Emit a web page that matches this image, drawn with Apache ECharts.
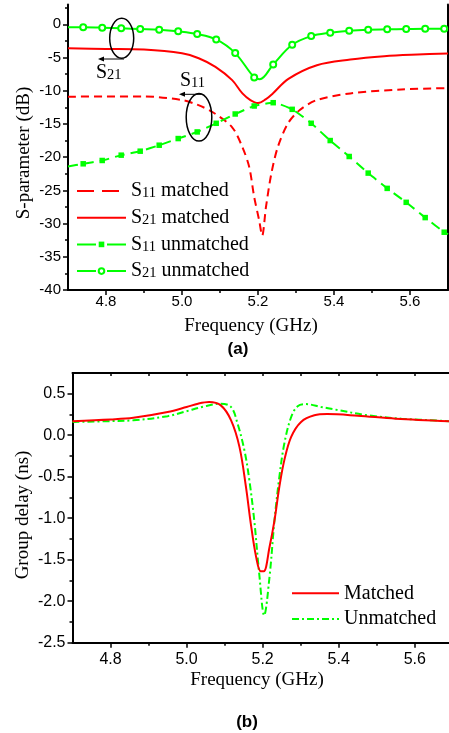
<!DOCTYPE html>
<html><head><meta charset="utf-8">
<script src="https://cdn.jsdelivr.net/npm/echarts@6/dist/echarts.min.js"></script>
<style>html,body{margin:0;padding:0;background:#fff}#c{width:449px;height:733px}</style>
</head><body><div id="c"></div>
<script>
// ---------- (a) S-parameter data ----------
const fS11m = [4.70, 4.80, 4.90, 5.00, 5.04, 5.08, 5.132, 5.159, 5.177, 5.19, 5.203, 5.211, 5.221, 5.235, 5.252, 5.279, 5.31, 5.355, 5.443, 5.577, 5.70];
const vS11m = [-10.9, -10.85, -10.85, -11.4, -12.1, -13.2, -15.5, -18.5, -21.5, -26.0, -29.5, -31.8, -27.5, -22.5, -18.5, -14.9, -12.9, -11.4, -10.4, -9.8, -9.6];

const fS21m = [4.70, 4.80, 4.90, 5.00, 5.044, 5.088, 5.132, 5.159, 5.18, 5.20, 5.22, 5.239, 5.28, 5.355, 5.443, 5.532, 5.62, 5.70];
const vS21m = [-3.62, -3.7, -3.8, -4.35, -5.1, -6.4, -8.4, -10.4, -11.4, -11.85, -11.3, -10.4, -8.2, -6.15, -5.3, -4.8, -4.55, -4.4];

const fMarkers = [4.74, 4.79, 4.84, 4.89, 4.94, 4.99, 5.04, 5.09, 5.14, 5.19, 5.24, 5.29, 5.34, 5.39, 5.44, 5.49, 5.54, 5.59, 5.64, 5.69];
const vS11uMarkers = [-21.0, -20.5, -19.7, -19.1, -18.2, -17.2, -16.2, -14.9, -13.5, -12.3, -11.8, -12.8, -14.9, -17.5, -19.9, -22.4, -24.7, -26.8, -29.1, -31.3];
const fS11uExtra = [4.70, 5.70];
const vS11uExtra = [-21.4, -31.6];
const vS21uMarkers = [-0.45, -0.5, -0.6, -0.7, -0.8, -1.06, -1.46, -2.27, -4.33, -8.0, -6.04, -3.08, -1.77, -1.26, -0.96, -0.81, -0.76, -0.71, -0.66, -0.66];
const fS21uExtra = [4.70, 5.205, 5.70];
const vS21uExtra = [-0.45, -8.26, -0.66];

const xTicksA = [4.8, 5.0, 5.2, 5.4, 5.6];
const xMinorA = [4.9, 5.1, 5.3, 5.5];
const yTicksA = [-40, -35, -30, -25, -20, -15, -10, -5, 0];
const yMinorA = [-37.5, -32.5, -27.5, -22.5, -17.5, -12.5, -7.5, -2.5, 2.5];

// ---------- (b) Group delay data ----------
const fGDm = [4.70, 4.80, 4.86, 4.95, 5.00, 5.03, 5.059, 5.09, 5.117, 5.139, 5.156, 5.169, 5.183, 5.195, 5.203, 5.218, 5.231, 5.244, 5.257, 5.275, 5.301, 5.336, 5.37, 5.45, 5.55, 5.69];
const vGDm = [0.17, 0.19, 0.21, 0.28, 0.34, 0.38, 0.40, 0.36, 0.18, -0.14, -0.62, -1.07, -1.47, -1.64, -1.64, -1.35, -1.03, -0.62, -0.30, -0.02, 0.16, 0.24, 0.255, 0.235, 0.20, 0.17];
const fGDu = [4.70, 4.80, 4.86, 4.95, 5.00, 5.045, 5.09, 5.117, 5.134, 5.152, 5.165, 5.178, 5.191, 5.204, 5.218, 5.231, 5.244, 5.257, 5.275, 5.292, 5.314, 5.354, 5.39, 5.477, 5.565, 5.69];
const vGDu = [0.16, 0.17, 0.18, 0.23, 0.29, 0.345, 0.38, 0.34, 0.14, -0.18, -0.54, -1.03, -1.67, -2.17, -1.71, -1.03, -0.50, -0.10, 0.22, 0.35, 0.375, 0.34, 0.31, 0.24, 0.20, 0.17];

const xTicksB = [4.8, 5.0, 5.2, 5.4, 5.6];
const xMinorB = [4.9, 5.1, 5.3, 5.5];
const xTopB = [4.8, 4.9, 5.0, 5.1, 5.2, 5.3, 5.4, 5.5, 5.6];
const yTicksB = [-2.5, -2.0, -1.5, -1.0, -0.5, 0.0, 0.5];
const yMinorB = [-2.25, -1.75, -1.25, -0.75, -0.25, 0.25];

// ---------- helpers ----------
const RED = '#ff0000', GREEN = '#00ff00';
const SANS = '"Liberation Sans", Arial, sans-serif';
const SERIF = '"Liberation Serif", "Times New Roman", serif';
const zip = (f, v) => f.map((x, i) => [x, v[i]]);
function withMarkers(mf, mv, ef, ev) {
  const pts = mf.map((x, i) => ({ value: [x, mv[i]] }))
    .concat(ef.map((x, i) => ({ value: [x, ev[i]], symbol: 'none' })));
  pts.sort((a, b) => a.value[0] - b.value[0]);
  return pts;
}
const subRich = { s: { fontFamily: SERIF, fontSize: 14.5, color: '#000', verticalAlign: 'bottom', lineHeight: 20 } };

function mainX(grid, min, max, ticks, fs, margin) {
  return { type: 'value', gridIndex: grid, min, max, position: 'bottom',
    axisLine: { show: true, onZero: false, lineStyle: { color: '#000', width: 2 } },
    axisTick: { show: true, customValues: ticks, length: 5, lineStyle: { color: '#000', width: 1.5 } },
    axisLabel: { show: true, customValues: ticks, formatter: v => v.toFixed(1), fontFamily: SANS, fontSize: fs, color: '#000', margin },
    splitLine: { show: false } };
}
function minorX(grid, min, max, ticks, pos, inside, len) {
  return { type: 'value', gridIndex: grid, min, max, position: pos,
    axisLine: { show: pos === 'top', onZero: false, lineStyle: { color: '#000', width: 2 } },
    axisTick: { show: true, inside: !!inside, customValues: ticks, length: len, lineStyle: { color: '#000', width: 1.5 } },
    axisLabel: { show: false }, splitLine: { show: false } };
}
function mainY(grid, min, max, ticks, fs, fmt, margin) {
  return { type: 'value', gridIndex: grid, min, max, position: 'left',
    axisLine: { show: true, onZero: false, lineStyle: { color: '#000', width: 2 } },
    axisTick: { show: true, customValues: ticks, length: 5, lineStyle: { color: '#000', width: 1.5 } },
    axisLabel: { show: true, customValues: ticks, formatter: fmt, fontFamily: SANS, fontSize: fs, color: '#000', margin },
    splitLine: { show: false } };
}
function minorY(grid, min, max, ticks, pos, showLine) {
  return { type: 'value', gridIndex: grid, min, max, position: pos,
    axisLine: { show: !!showLine, onZero: false, lineStyle: { color: '#000', width: 2 } },
    axisTick: { show: !!ticks, customValues: ticks || [], length: 3, lineStyle: { color: '#000', width: 1.5 } },
    axisLabel: { show: false }, splitLine: { show: false } };
}

const chart = echarts.init(document.getElementById('c'), null, { renderer: 'canvas' });
const option = {
  animation: false,
  backgroundColor: '#fff',
  grid: [
    { left: 68, top: 4.4, width: 380, height: 285.6 },
    { left: 72.5, top: 373, width: 378.7, height: 269.7 }
  ],
  xAxis: [
    mainX(0, 4.7, 5.7, xTicksA, 15, 4),
    minorX(0, 4.7, 5.7, xMinorA, 'bottom', false, 3),
    mainX(1, 4.7, 5.69, xTicksB, 16, 9),
    minorX(1, 4.7, 5.69, xMinorB, 'bottom', false, 3),
    minorX(1, 4.7, 5.69, xTopB, 'top', true, 3)
  ],
  yAxis: [
    mainY(0, -40, 3, yTicksA, 15, v => String(v), 7),
    minorY(0, -40, 3, yMinorA, 'left', false),
    minorY(0, -40, 3, null, 'right', true),
    mainY(1, -2.5, 0.75, yTicksB, 16, v => v.toFixed(1), 7),
    minorY(1, -2.5, 0.75, yMinorB, 'left', false)
  ],
  legend: [
    { orient: 'vertical', left: 76, top: 181, padding: 0, itemGap: 6.7, itemWidth: 49, itemHeight: 7,
      data: [
        { name: 'S11 matched', itemStyle: { opacity: 0 }, lineStyle: { type: [17, 8] } },
        { name: 'S21 matched', itemStyle: { opacity: 0 } },
        { name: 'S11 unmatched', lineStyle: { type: [19, 11] } },
        { name: 'S21 unmatched', lineStyle: { type: [19, 11] } }
      ],
      formatter: n => n.replace(/^S(\d+)/, 'S{s|$1}'),
      textStyle: { fontFamily: SERIF, fontSize: 20, color: '#000', lineHeight: 20, rich: subRich } },
    { orient: 'vertical', left: 291, top: 583.3, padding: 0, itemGap: 5.7, itemWidth: 47, itemHeight: 7,
      data: [
        { name: 'Matched', itemStyle: { opacity: 0 } },
        { name: 'Unmatched', itemStyle: { opacity: 0 } }
      ],
      textStyle: { fontFamily: SERIF, fontSize: 20, color: '#000', lineHeight: 20 } }
  ],
  series: [
    { name: 'S11 matched', type: 'line', xAxisIndex: 0, yAxisIndex: 0, data: zip(fS11m, vS11m),
      symbol: 'none', smooth: 0.3,
      lineStyle: { color: RED, width: 2, type: [8, 5] }, itemStyle: { color: RED } },
    { name: 'S21 matched', type: 'line', xAxisIndex: 0, yAxisIndex: 0, data: zip(fS21m, vS21m),
      symbol: 'none', smooth: 0.35,
      lineStyle: { color: RED, width: 2 }, itemStyle: { color: RED } },
    { name: 'S11 unmatched', type: 'line', xAxisIndex: 0, yAxisIndex: 0,
      data: withMarkers(fMarkers, vS11uMarkers, fS11uExtra, vS11uExtra),
      symbol: 'rect', symbolSize: 5.5, showAllSymbol: true, smooth: 0.2,
      lineStyle: { color: GREEN, width: 2, type: [10, 6] }, itemStyle: { color: GREEN } },
    { name: 'S21 unmatched', type: 'line', xAxisIndex: 0, yAxisIndex: 0,
      data: withMarkers(fMarkers, vS21uMarkers, fS21uExtra, vS21uExtra),
      symbol: 'emptyCircle', symbolSize: 6, showAllSymbol: true, smooth: 0.35,
      lineStyle: { color: GREEN, width: 2 }, itemStyle: { color: GREEN, borderWidth: 1.2 } },
    { name: 'Matched', type: 'line', xAxisIndex: 2, yAxisIndex: 3, data: zip(fGDm, vGDm),
      symbol: 'none', smooth: 0.35, z: 3,
      lineStyle: { color: RED, width: 2 }, itemStyle: { color: RED } },
    { name: 'Unmatched', type: 'line', xAxisIndex: 2, yAxisIndex: 3, data: zip(fGDu, vGDu),
      symbol: 'none', smooth: 0.35, z: 2,
      lineStyle: { color: GREEN, width: 2, type: [7, 3, 2, 3] }, itemStyle: { color: GREEN } }
  ],
  graphic: [
    // axis titles
    { type: 'text', x: 24, y: 153, rotation: Math.PI / 2,
      style: { text: 'S-parameter (dB)', font: '19px ' + SERIF, fill: '#000', align: 'center', verticalAlign: 'middle' } },
    { type: 'text', x: 251, y: 326,
      style: { text: 'Frequency (GHz)', font: '19px ' + SERIF, fill: '#000', align: 'center', verticalAlign: 'middle' } },
    { type: 'text', x: 238, y: 349,
      style: { text: '(a)', font: 'bold 17px ' + SANS, fill: '#000', align: 'center', verticalAlign: 'middle' } },
    { type: 'text', x: 23, y: 515, rotation: Math.PI / 2,
      style: { text: 'Group delay (ns)', font: '19px ' + SERIF, fill: '#000', align: 'center', verticalAlign: 'middle' } },
    { type: 'text', x: 257, y: 680,
      style: { text: 'Frequency (GHz)', font: '19px ' + SERIF, fill: '#000', align: 'center', verticalAlign: 'middle' } },
    { type: 'text', x: 247, y: 722,
      style: { text: '(b)', font: 'bold 17px ' + SANS, fill: '#000', align: 'center', verticalAlign: 'middle' } },
    // annotations
    { type: 'ellipse', shape: { cx: 121.7, cy: 38.3, rx: 12, ry: 20 }, style: { fill: 'none', stroke: '#000', lineWidth: 1.5 }, z: 10 },
    { type: 'line', shape: { x1: 124, y1: 59, x2: 101, y2: 59 }, style: { stroke: '#000', lineWidth: 1 }, z: 10 },
    { type: 'polygon', shape: { points: [[98, 59], [104, 56.5], [104, 61.5]] }, style: { fill: '#000' }, z: 10 },
    { type: 'text', x: 96, y: 73, z: 10,
      style: { text: 'S{s|21}', font: '20px ' + SERIF, fill: '#000', align: 'left', verticalAlign: 'middle', lineHeight: 20, rich: subRich } },
    { type: 'ellipse', shape: { cx: 199, cy: 117.3, rx: 12.8, ry: 23.8 }, style: { fill: 'none', stroke: '#000', lineWidth: 1.5 }, z: 10 },
    { type: 'line', shape: { x1: 201.7, y1: 94.3, x2: 182, y2: 94.3 }, style: { stroke: '#000', lineWidth: 1 }, z: 10 },
    { type: 'polygon', shape: { points: [[179, 94.3], [185, 91.8], [185, 96.8]] }, style: { fill: '#000' }, z: 10 },
    { type: 'text', x: 180, y: 81, z: 10,
      style: { text: 'S{s|11}', font: '20px ' + SERIF, fill: '#000', align: 'left', verticalAlign: 'middle', lineHeight: 20, rich: subRich } }
  ]
};
chart.setOption(option);
</script></body></html>
